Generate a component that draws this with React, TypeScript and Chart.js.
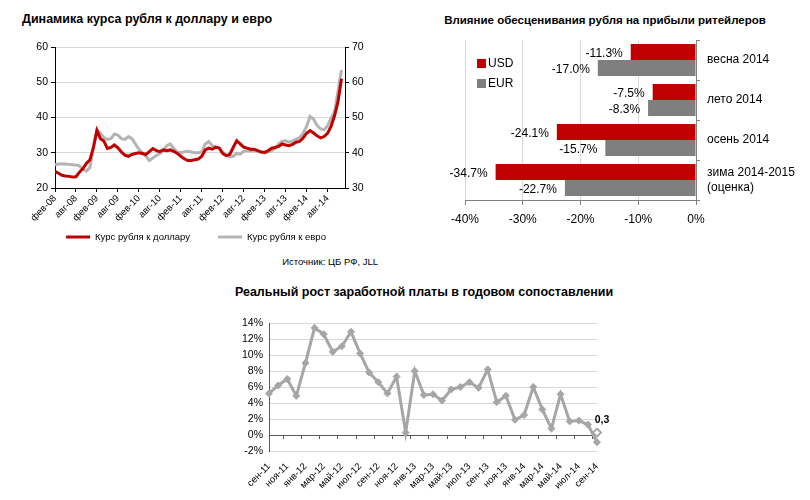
import React, { useEffect, useRef } from 'react';
import { Chart, registerables } from 'chart.js';

Chart.register(...registerables);

const FONT = "'Liberation Sans', Arial, sans-serif";
const RED = '#c00000';
const GRAY_LINE = '#b4b4b4';
const GRAY_BAR = '#7f7f7f';
const GRAY_WAGE = '#a6a6a6';
const AXIS = '#595959';

// ---------- Chart 1: exchange rates (monthly, фев-08 .. дек-14) ----------
const FX_TICK_LABELS = ['фев-08', 'авг-08', 'фев-09', 'авг-09', 'фев-10', 'авг-10', 'фев-11', 'авг-11', 'фев-12', 'авг-12', 'фев-13', 'авг-13', 'фев-14', 'авг-14'];
const USD_RATE = [
  24.7, 24.2, 23.6, 23.4, 23.3, 23.1, 23.2, 24.5, 25.5, 27.0, 28.0, 31.5,
  36.3, 34.0, 33.3, 31.2, 31.5, 32.2, 31.4, 30.2, 29.3, 29.0, 29.5, 29.8,
  30.0, 29.8, 29.5, 30.3, 31.2, 30.6, 30.3, 30.8, 30.6, 30.8, 30.4, 29.8,
  29.0, 28.3, 27.8, 27.8, 28.0, 28.2, 29.0, 30.8, 31.3, 31.0, 31.6, 31.3,
  29.8, 29.2, 29.5, 31.5, 33.4, 32.5, 31.6, 31.3, 31.0, 31.0, 30.6, 30.2,
  30.1, 30.6, 31.3, 31.5, 31.8, 32.5, 32.2, 32.0, 32.4, 33.0, 33.2, 34.2,
  35.5, 36.3, 35.6, 34.8, 34.2, 34.6, 35.5, 37.5, 40.5, 44.5, 51.0,
];
const EUR_RATE = [
  36.6, 36.8, 36.9, 36.8, 36.7, 36.6, 36.5, 36.3, 35.3, 34.8, 35.8, 41.5,
  46.5, 45.5, 44.3, 43.8, 44.0, 45.3, 45.0, 44.0, 43.8, 44.6, 44.0, 42.5,
  41.0, 40.0, 39.0, 37.8, 38.5, 39.2, 39.8, 40.8, 42.0, 42.5, 41.2, 40.2,
  40.0, 40.3, 40.4, 40.2, 40.0, 40.0, 40.2, 42.5, 43.2, 42.0, 41.6, 41.4,
  40.2, 39.2, 38.8, 39.0, 39.8, 39.6, 40.4, 40.6, 40.5, 40.6, 40.4, 40.2,
  40.0, 40.2, 40.5, 41.2, 42.5, 43.3, 43.4, 43.0, 43.3, 43.8, 44.3, 45.5,
  47.5, 50.3, 49.5, 47.8, 46.8, 46.5, 47.6, 49.8, 51.5, 57.5, 63.5,
];

// ---------- Chart 2: retailer profit impact ----------
const SEASONS = [['весна 2014'], ['лето 2014'], ['осень 2014'], ['зима 2014-2015', '(оценка)']];
const USD_IMPACT = [-11.3, -7.5, -24.1, -34.7];
const EUR_IMPACT = [-17.0, -8.3, -15.7, -22.7];

// ---------- Chart 3: real wage growth ----------
const WAGE_MONTHS = [
  'сен-11', 'окт-11', 'ноя-11', 'дек-11', 'янв-12', 'фев-12', 'мар-12', 'апр-12', 'май-12', 'июн-12',
  'июл-12', 'авг-12', 'сен-12', 'окт-12', 'ноя-12', 'дек-12', 'янв-13', 'фев-13', 'мар-13', 'апр-13',
  'май-13', 'июн-13', 'июл-13', 'авг-13', 'сен-13', 'окт-13', 'ноя-13', 'дек-13', 'янв-14', 'фев-14',
  'мар-14', 'апр-14', 'май-14', 'июн-14', 'июл-14', 'авг-14', 'сен-14',
];
const WAGE_GROWTH = [
  5.2, 6.2, 7.0, 4.9, 9.0, 13.4, 12.6, 10.4, 11.1, 12.9,
  10.2, 7.8, 6.6, 5.2, 7.3, 0.3, 8.0, 5.0, 5.1, 4.3,
  5.7, 6.0, 6.6, 5.9, 8.2, 4.1, 4.9, 1.9, 2.5, 6.0,
  3.2, 0.8, 5.1, 1.7, 1.8, 1.3, -0.9,
];
const WAGE_LAST = 0.3;
const WAGE_LAST_LABEL = '0,3';

const f = (size: number, weight: string = 'normal') => ({ family: FONT, size, weight });

export default function App() {
  const c1 = useRef<HTMLCanvasElement>(null);
  const c2 = useRef<HTMLCanvasElement>(null);
  const c3 = useRef<HTMLCanvasElement>(null);

  useEffect(() => {
    const charts: Chart[] = [];

    // ----- Chart 1 -----
    const lineLegend = {
      id: 'lineLegend',
      afterDraw(chart: any) {
        const { ctx, chartArea } = chart;
        ctx.save();
        ctx.font = `9.5px ${FONT}`;
        ctx.textBaseline = 'middle';
        ctx.textAlign = 'left';
        const sample = 24;
        const gapText = 5;
        const gapItem = 28;
        const items = chart.data.datasets.map((ds: any) => ({
          ds,
          w: sample + gapText + ctx.measureText(ds.label).width,
        }));
        const total = items.reduce((a: number, it: any) => a + it.w, 0) + gapItem * (items.length - 1);
        let x = (chartArea.left + chartArea.right) / 2 - 4 - total / 2;
        const y = chartArea.bottom + 49;
        items.forEach((it: any) => {
          ctx.strokeStyle = it.ds.borderColor;
          ctx.lineWidth = 3;
          ctx.beginPath();
          ctx.moveTo(x, y);
          ctx.lineTo(x + sample, y);
          ctx.stroke();
          ctx.fillStyle = '#000';
          ctx.fillText(it.ds.label, x + sample + gapText, y);
          x += it.w + gapItem;
        });
        ctx.restore();
      },
    };
    charts.push(
      new Chart(c1.current!, {
        type: 'line',
        data: {
          datasets: [
            {
              label: 'Курс рубля к доллару',
              data: USD_RATE.map((y, x) => ({ x, y })),
              borderColor: RED,
              backgroundColor: RED,
              borderWidth: 3,
              pointRadius: 0,
              yAxisID: 'y',
            },
            {
              label: 'Курс рубля к евро',
              data: EUR_RATE.map((y, x) => ({ x, y })),
              borderColor: GRAY_LINE,
              backgroundColor: GRAY_LINE,
              borderWidth: 3,
              pointRadius: 0,
              yAxisID: 'y2',
            },
          ],
        },
        options: {
          responsive: false,
          animation: false,
          layout: { padding: { top: 17, bottom: 27, left: 0, right: 0 } },
          plugins: {
            legend: { display: false },
            tooltip: { enabled: false },
          },
          scales: {
            x: {
              type: 'linear',
              min: 0,
              max: 83,
              afterFit: (s: any) => { s.height = 40; s.paddingLeft = 0; s.paddingRight = 0; },
              ticks: {
                stepSize: 6,
                includeBounds: false,
                autoSkip: false,
                maxRotation: 45,
                minRotation: 45,
                padding: 1,
                color: '#000',
                font: f(9.5),
                callback: (v: any) => FX_TICK_LABELS[Math.round(v / 6)] ?? '',
              },
              grid: { drawOnChartArea: false, tickLength: 4, color: '#000' },
              border: { color: '#000' },
            },
            y: {
              position: 'left',
              min: 20,
              max: 60,
              afterFit: (s: any) => { s.width = 55; },
              ticks: { stepSize: 10, color: '#000', font: f(10.5), padding: 3 },
              grid: { color: '#d9d9d9', tickColor: '#000', tickLength: 4 },
              border: { color: '#000' },
            },
            y2: {
              position: 'right',
              min: 30,
              max: 70,
              afterFit: (s: any) => { s.width = 55; },
              ticks: { stepSize: 10, color: '#000', font: f(10.5), padding: 3 },
              grid: { drawOnChartArea: false, color: '#000', tickLength: 4 },
              border: { color: '#000' },
            },
          },
        },
        plugins: [lineLegend],
      } as any)
    );

    // ----- Chart 2 -----
    const insideLegend = {
      id: 'insideLegend',
      afterDraw(chart: any) {
        const { ctx, chartArea } = chart;
        ctx.save();
        ctx.font = `12px ${FONT}`;
        ctx.textBaseline = 'middle';
        ctx.textAlign = 'left';
        chart.data.datasets.forEach((ds: any, i: number) => {
          const x = chartArea.left + 12;
          const y = chartArea.top + 24 + i * 20;
          ctx.fillStyle = ds.backgroundColor;
          ctx.fillRect(x, y - 5, 9, 9);
          ctx.fillStyle = '#000';
          ctx.fillText(ds.label, x + 11, y);
        });
        ctx.restore();
      },
    };
    const barLabels = {
      id: 'barLabels',
      afterDatasetsDraw(chart: any) {
        const { ctx } = chart;
        ctx.save();
        ctx.font = `12px ${FONT}`;
        ctx.textBaseline = 'middle';
        ctx.textAlign = 'right';
        ctx.fillStyle = '#000';
        chart.data.datasets.forEach((ds: any, di: number) => {
          const meta = chart.getDatasetMeta(di);
          meta.data.forEach((bar: any, i: number) => {
            ctx.fillText(`${ds.data[i].toFixed(1)}%`, bar.x - 8, bar.y + 1.5);
          });
        });
        ctx.restore();
      },
    };
    charts.push(
      new Chart(c2.current!, {
        type: 'bar',
        data: {
          labels: SEASONS,
          datasets: [
            { label: 'USD', data: USD_IMPACT, backgroundColor: RED },
            { label: 'EUR', data: EUR_IMPACT, backgroundColor: GRAY_BAR },
          ],
        },
        options: {
          indexAxis: 'y',
          responsive: false,
          animation: false,
          categoryPercentage: 0.8,
          barPercentage: 1.0,
          layout: { padding: { left: 65, top: 8, right: 0, bottom: 0 } },
          plugins: { legend: { display: false }, tooltip: { enabled: false } },
          scales: {
            x: {
              min: -40,
              max: 0,
              afterFit: (s: any) => { s.height = 30; s.paddingLeft = 0; s.paddingRight = 0; },
              ticks: { stepSize: 10, color: '#000', font: f(12), padding: 7, callback: (v: any) => `${v}%` },
              grid: { color: '#d9d9d9', tickColor: '#808080', tickLength: 5 },
              border: { color: '#808080' },
            },
            y: {
              position: 'right',
              afterFit: (s: any) => { s.width = 114; s.paddingTop = 0; s.paddingBottom = 0; },
              ticks: { color: '#000', font: f(12), padding: 7 },
              grid: { drawOnChartArea: false, color: '#808080', tickLength: 4 },
              border: { color: '#808080' },
            },
          },
        },
        plugins: [insideLegend, barLabels],
      } as any)
    );

    // ----- Chart 3 -----
    const zeroTicks = {
      id: 'zeroTicks',
      beforeDatasetsDraw(chart: any) {
        const { ctx } = chart;
        const xs = chart.scales.x;
        const y0 = chart.scales.y.getPixelForValue(0);
        ctx.save();
        ctx.strokeStyle = AXIS;
        ctx.lineWidth = 1;
        ctx.beginPath();
        for (let i = 1; i < WAGE_MONTHS.length - 1; i += 2) {
          const px = Math.round((xs.getPixelForValue(i) + xs.getPixelForValue(i + 1)) / 2) + 0.5;
          ctx.moveTo(px, y0);
          ctx.lineTo(px, y0 + 4);
        }
        ctx.stroke();
        ctx.restore();
      },
    };
    const lastLabel = {
      id: 'lastLabel',
      afterDatasetsDraw(chart: any) {
        const { ctx } = chart;
        const meta = chart.getDatasetMeta(1);
        const pt = meta.data[WAGE_MONTHS.length - 1];
        if (!pt) return;
        ctx.save();
        ctx.font = `bold 10.5px ${FONT}`;
        ctx.textAlign = 'center';
        ctx.textBaseline = 'middle';
        ctx.fillStyle = '#000';
        ctx.fillText(WAGE_LAST_LABEL, pt.x + 5, pt.y - 12);
        ctx.restore();
      },
    };
    charts.push(
      new Chart(c3.current!, {
        type: 'line',
        data: {
          labels: WAGE_MONTHS,
          datasets: [
            {
              label: 'Реальный рост заработной платы',
              data: WAGE_GROWTH,
              borderColor: GRAY_WAGE,
              backgroundColor: GRAY_WAGE,
              borderWidth: 3,
              pointStyle: 'rectRot',
              pointRadius: 3.5,
              pointBackgroundColor: GRAY_WAGE,
              pointBorderColor: GRAY_WAGE,
              pointBorderWidth: 1,
            },
            {
              label: 'предварительно',
              data: WAGE_MONTHS.map((_, i) => (i === WAGE_MONTHS.length - 1 ? WAGE_LAST : null)),
              showLine: false,
              pointStyle: 'rectRot',
              pointRadius: 4,
              pointBackgroundColor: '#fff',
              pointBorderColor: GRAY_WAGE,
              pointBorderWidth: 2,
            },
          ],
        },
        options: {
          responsive: false,
          animation: false,
          layout: { padding: { top: 53, right: 23, left: 0, bottom: 0 } },
          plugins: { legend: { display: false }, tooltip: { enabled: false } },
          scales: {
            x: {
              afterFit: (s: any) => { s.height = 49; s.paddingLeft = 0; s.paddingRight = 0; },
              ticks: {
                autoSkip: false,
                maxRotation: 45,
                minRotation: 45,
                padding: 2,
                color: '#000',
                font: f(9.5),
                callback: (_v: any, i: number) => (i % 2 === 0 ? WAGE_MONTHS[i] : ''),
              },
              grid: { display: false },
              border: { display: false },
            },
            y: {
              min: -2,
              max: 14,
              afterFit: (s: any) => { s.width = 69; s.paddingTop = 0; s.paddingBottom = 0; },
              ticks: { stepSize: 2, color: '#000', font: f(10.5), padding: 6, callback: (v: any) => `${v}%` },
              grid: {
                drawTicks: false,
                color: (c: any) => (c.tick && c.tick.value === 0 ? AXIS : '#d9d9d9'),
              },
              border: { color: AXIS },
            },
          },
        },
        plugins: [zeroTicks, lastLabel],
      } as any)
    );

    return () => charts.forEach((c) => c.destroy());
  }, []);

  const abs = (o: React.CSSProperties): React.CSSProperties => ({ position: 'absolute', ...o });

  return (
    <div style={abs({ left: 0, top: 0, width: 810, height: 500, background: '#fff', fontFamily: FONT, color: '#000', overflow: 'hidden' })}>
      <div style={abs({ left: 22, top: 12, fontSize: 12.5, fontWeight: 'bold', lineHeight: '15px', whiteSpace: 'nowrap' })}>
        Динамика курса рубля к доллару и евро
      </div>
      <canvas ref={c1} width={400} height={225} style={abs({ left: 0, top: 30 })} />
      <div style={abs({ left: 200, top: 256, width: 178, textAlign: 'right', fontSize: 9.5, lineHeight: '12px', whiteSpace: 'nowrap' })}>
        Источник: ЦБ РФ, JLL
      </div>

      <div style={abs({ left: 405, top: 13, width: 400, textAlign: 'center', fontSize: 11.5, fontWeight: 'bold', lineHeight: '14px', whiteSpace: 'nowrap' })}>
        Влияние обесценивания рубля на прибыли ритейлеров
      </div>
      <canvas ref={c2} width={410} height={198} style={abs({ left: 400, top: 32 })} />

      <div style={abs({ left: 224, top: 284, width: 400, textAlign: 'center', fontSize: 12.5, fontWeight: 'bold', lineHeight: '16px', whiteSpace: 'nowrap' })}>
        Реальный рост заработной платы в годовом сопоставлении
      </div>
      <canvas ref={c3} width={420} height={230} style={abs({ left: 200, top: 270 })} />
    </div>
  );
}
